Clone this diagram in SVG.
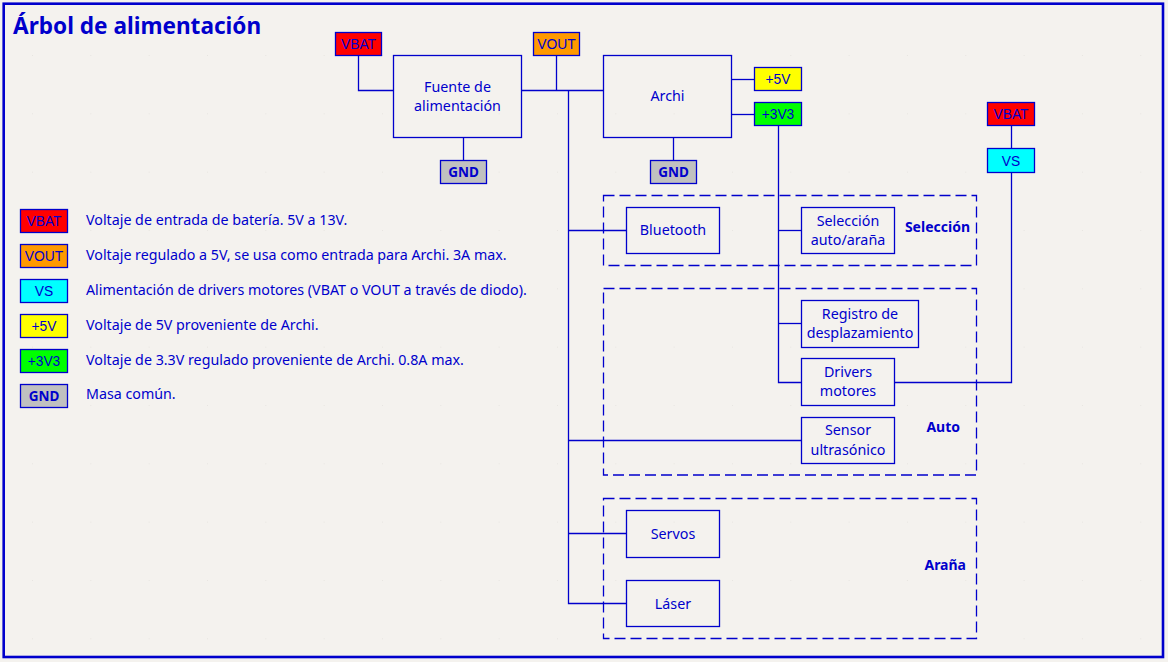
<svg xmlns="http://www.w3.org/2000/svg" width="1168" height="662" viewBox="0 0 1168 662">
  <style>
    .bg { fill: #f4f2ee; }
    .frame { fill: none; stroke: #0000cc; stroke-width: 2.6; }
    .box { fill: none; stroke: #0000cc; stroke-width: 1.3; }
    .group { fill: none; stroke: #0000cc; stroke-width: 1.3; stroke-dasharray: 11 5; }
    .wire { fill: none; stroke: #0000cc; stroke-width: 1.3; }
    .port { stroke: #0000cc; stroke-width: 1.3; }
    .lbl { font-family: "Noto Sans", "Open Sans", sans-serif; font-size: 14.3px; fill: #0000cc; text-anchor: middle; }
    .plbl { font-family: "Liberation Sans", Arial, sans-serif; font-size: 13.8px; fill: #0000cc; text-anchor: middle; }
    .gnd { font-family: "Noto Sans", sans-serif; font-weight: bold; font-size: 13.5px; fill: #0000cc; text-anchor: middle; }
    .glbl { font-family: "Noto Sans", sans-serif; font-weight: bold; font-size: 14px; fill: #0000cc; text-anchor: end; }
    .leg { font-family: "Noto Sans", "Open Sans", sans-serif; font-size: 14.25px; fill: #0000cc; }
    .title { font-family: "Noto Sans", sans-serif; font-weight: bold; font-size: 22.6px; fill: #0000cc; }
    .vbat { fill: #ff0000; }
    .vout { fill: #ff9900; }
    .vs { fill: #00ffff; }
    .v5 { fill: #ffff00; }
    .v33 { fill: #00ff00; }
    .vgnd { fill: #c0c0c0; }
  </style>
  <defs>
    <pattern id="grid" x="32" y="55" width="58.33" height="58.33" patternUnits="userSpaceOnUse">
      <rect x="-0.6" y="-0.6" width="1.2" height="1.2" fill="#cfcdc8"/>
    </pattern>
  </defs>

  <rect class="bg" x="0" y="0" width="1168" height="662"/>
  <rect x="0" y="0" width="1168" height="662" fill="url(#grid)"/>
  <rect class="frame" x="3.7" y="3.7" width="1159.3" height="653.3"/>

  <text class="title" x="13" y="33.5">Árbol de alimentación</text>

  <!-- grouping frames -->
  <g id="grp-seleccion">
    <rect class="group" x="603.5" y="195.5" width="373" height="70"/>
    <text class="glbl" x="970" y="231.5">Selección</text>
  </g>
  <g id="grp-auto">
    <rect class="group" x="603.5" y="288.5" width="373" height="186.5"/>
    <text class="glbl" x="960" y="431.5">Auto</text>
  </g>
  <g id="grp-arana">
    <rect class="group" x="603.5" y="498.5" width="373" height="140"/>
    <text class="glbl" x="966" y="569.5">Araña</text>
  </g>

  <!-- power wiring -->
  <g id="connectors">
    <path class="wire" d="M358.5 55.5 V90.5 H393.5"/>
    <path class="wire" d="M463.5 137.5 V160"/>
    <path class="wire" d="M556.5 55.5 V90.5"/>
    <path class="wire" d="M521.5 90.5 H603.5"/>
    <path class="wire" d="M568.5 90.5 V603.5 H626.5"/>
    <path class="wire" d="M568.5 230.5 H626.5"/>
    <path class="wire" d="M568.5 440.5 H801.5"/>
    <path class="wire" d="M568.5 533.5 H626.5"/>
    <path class="wire" d="M673.5 137.5 V160"/>
    <path class="wire" d="M731.5 79.5 H754.5"/>
    <path class="wire" d="M731.5 114.5 H754.5"/>
    <path class="wire" d="M778.5 125.5 V382.5 H801.5"/>
    <path class="wire" d="M778.5 230.5 H801.5"/>
    <path class="wire" d="M778.5 323.5 H801.5"/>
    <path class="wire" d="M1011.5 125.5 V148.5"/>
    <path class="wire" d="M1011.5 172.5 V382.5 H894.5"/>
  </g>

  <!-- power rails -->
  <g id="p-vbat1">
    <rect class="port vbat" x="335.5" y="32.5" width="46" height="23"/>
    <text class="plbl" x="358.5" y="49">VBAT</text>
  </g>
  <g id="p-vout">
    <rect class="port vout" x="533.5" y="32.5" width="46" height="23"/>
    <text class="plbl" x="556.5" y="49">VOUT</text>
  </g>
  <g id="p-gnd1">
    <rect class="port vgnd" x="440.5" y="160.5" width="46" height="23"/>
    <text class="gnd" x="463.5" y="177">GND</text>
  </g>
  <g id="p-gnd2">
    <rect class="port vgnd" x="650.5" y="160.5" width="46" height="23"/>
    <text class="gnd" x="673.5" y="177">GND</text>
  </g>
  <g id="p-5v">
    <rect class="port v5" x="754.5" y="67.5" width="47" height="23"/>
    <text class="plbl" x="778" y="84">+5V</text>
  </g>
  <g id="p-3v3">
    <rect class="port v33" x="754.5" y="102.5" width="47" height="23"/>
    <text class="plbl" x="778" y="119">+3V3</text>
  </g>
  <g id="p-vbat2">
    <rect class="port vbat" x="987.5" y="102.5" width="47" height="23"/>
    <text class="plbl" x="1011" y="119">VBAT</text>
  </g>
  <g id="p-vs">
    <rect class="port vs" x="987.5" y="148.5" width="47" height="24"/>
    <text class="plbl" x="1011" y="165.5">VS</text>
  </g>

  <!-- blocks -->
  <g id="n-fuente">
    <rect class="box" x="393.5" y="55.5" width="128" height="82"/>
    <text class="lbl" x="457.5" y="91.5">Fuente de</text>
    <text class="lbl" x="457.5" y="110.5">alimentación</text>
  </g>
  <g id="n-archi">
    <rect class="box" x="603.5" y="55.5" width="128" height="82"/>
    <text class="lbl" x="667.5" y="100.5">Archi</text>
  </g>
  <g id="n-bluetooth">
    <rect class="box" x="626.5" y="207.5" width="93" height="46"/>
    <text class="lbl" x="673" y="235">Bluetooth</text>
  </g>
  <g id="n-seleccion">
    <rect class="box" x="801.5" y="207.5" width="93" height="46"/>
    <text class="lbl" x="848" y="225.5">Selección</text>
    <text class="lbl" x="848" y="244.5">auto/araña</text>
  </g>
  <g id="n-registro">
    <rect class="box" x="801.5" y="300.5" width="117" height="47"/>
    <text class="lbl" x="860" y="318.5">Registro de</text>
    <text class="lbl" x="860" y="338">desplazamiento</text>
  </g>
  <g id="n-drivers">
    <rect class="box" x="801.5" y="358.5" width="93" height="47"/>
    <text class="lbl" x="848" y="376.5">Drivers</text>
    <text class="lbl" x="848" y="396">motores</text>
  </g>
  <g id="n-sensor">
    <rect class="box" x="801.5" y="417.5" width="93" height="46"/>
    <text class="lbl" x="848" y="435">Sensor</text>
    <text class="lbl" x="848" y="454.5">ultrasónico</text>
  </g>
  <g id="n-servos">
    <rect class="box" x="626.5" y="510.5" width="93" height="47"/>
    <text class="lbl" x="673" y="538.5">Servos</text>
  </g>
  <g id="n-laser">
    <rect class="box" x="626.5" y="580.5" width="93" height="46"/>
    <text class="lbl" x="673" y="608.5">Láser</text>
  </g>

  <!-- legend -->
  <g id="legend">
    <rect class="port vbat" x="20.5" y="209.5" width="47" height="23"/>
    <text class="plbl" x="44" y="226">VBAT</text>
    <text class="leg" x="86" y="224.5">Voltaje de entrada de batería. 5V a 13V.</text>

    <rect class="port vout" x="20.5" y="244.5" width="47" height="23"/>
    <text class="plbl" x="44" y="261">VOUT</text>
    <text class="leg" x="86" y="259.5">Voltaje regulado a 5V, se usa como entrada para Archi. 3A max.</text>

    <rect class="port vs" x="20.5" y="279.5" width="47" height="23"/>
    <text class="plbl" x="44" y="296">VS</text>
    <text class="leg" x="86" y="294.5">Alimentación de drivers motores (VBAT o VOUT a través de diodo).</text>

    <rect class="port v5" x="20.5" y="314.5" width="47" height="23"/>
    <text class="plbl" x="44" y="331">+5V</text>
    <text class="leg" x="86" y="329.5">Voltaje de 5V proveniente de Archi.</text>

    <rect class="port v33" x="20.5" y="349.5" width="47" height="23"/>
    <text class="plbl" x="44" y="366">+3V3</text>
    <text class="leg" x="86" y="364.5">Voltaje de 3.3V regulado proveniente de Archi. 0.8A max.</text>

    <rect class="port vgnd" x="20.5" y="384.5" width="47" height="23"/>
    <text class="gnd" x="44" y="401">GND</text>
    <text class="leg" x="86" y="399">Masa común.</text>
  </g>
</svg>
